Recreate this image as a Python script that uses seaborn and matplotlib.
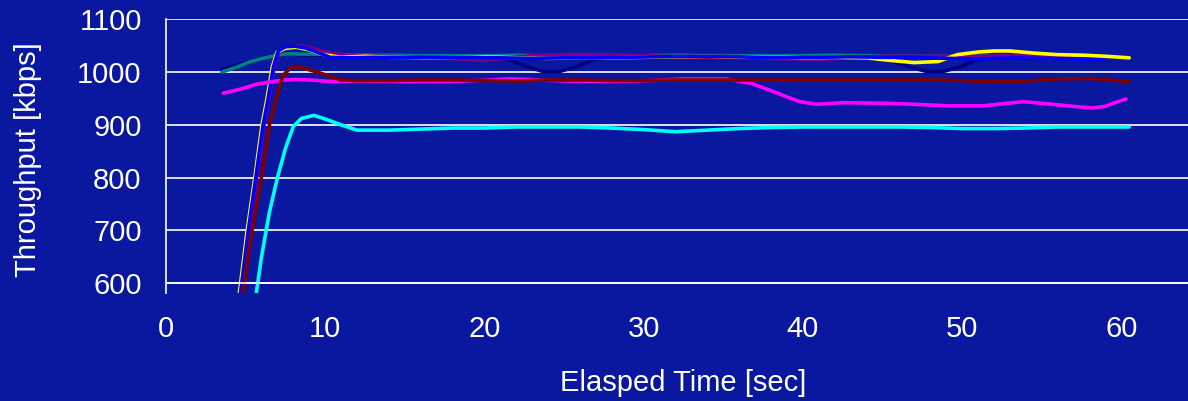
import pandas as pd
import matplotlib
matplotlib.use('Agg')
import matplotlib.pyplot as plt
import seaborn as sns

sns.set_theme(style='white')
plt.rcParams['font.family'] = ['Liberation Sans', 'DejaVu Sans']

bg = '#0A18A0'

# series: time [sec] and throughput [kbps]
navy_t = [3.5, 4.5, 5.3, 6.2, 7.0, 7.7, 8.5, 10, 12, 14, 16, 18, 20, 21.6, 22.7, 23.7, 24.7, 25.8, 26.8, 28,
          30, 32, 34, 36, 38, 40, 42, 44, 45.7, 46.8, 47.8, 48.8, 49.9, 50.9, 52, 54, 56, 58]
navy_v = [1005, 1013, 1021, 1028, 1032, 1034, 1033, 1032, 1031, 1031, 1030, 1030, 1030, 1023, 1010, 1001, 1001,
          1010, 1023, 1029, 1030, 1030, 1030, 1030, 1030, 1030, 1030, 1029, 1020, 1009, 1001, 1001, 1010, 1023,
          1029, 1030, 1030, 1029]

teal_t = [3.5, 4.5, 5.3, 6.2, 7.0, 7.7, 8.5, 9.5, 10.5, 12, 14, 16, 18, 20, 22, 24, 26, 28, 30, 32, 34, 36,
          38, 40, 42, 44, 46, 48, 50, 52, 54, 56, 58.4]
teal_v = [1000, 1010, 1020, 1027, 1032, 1035, 1034, 1034, 1033, 1032, 1032, 1031, 1031, 1031, 1032, 1030, 1030,
          1031, 1031, 1032, 1031, 1031, 1031, 1031, 1032, 1031, 1030, 1030, 1030, 1030, 1031, 1030, 1028]

purple_t = [4.6, 5.2, 5.7, 6.15, 6.45, 6.8, 7.1, 7.6, 8.4, 9.2, 10.3, 11.5, 13, 15, 17, 19, 20, 21, 23, 25,
            27, 29, 31, 33, 35, 37, 39, 41, 43, 45, 47, 49, 51, 53, 55, 57, 58.5]
purple_v = [550, 700, 800, 900, 947, 1010, 1038, 1047, 1050, 1045, 1036, 1031, 1030, 1029, 1027, 1024, 1023,
            1025, 1031, 1033, 1033, 1032, 1030, 1028, 1028, 1027, 1025, 1024, 1027, 1030, 1030, 1030, 1030,
            1031, 1031, 1030, 1029]

yellow_t = [4.48, 5.1, 5.58, 6.03, 6.33, 6.68, 6.98, 7.5, 8.2, 9.0, 9.9, 11, 12.5, 14, 16, 18, 20, 22, 24, 26,
            28, 30, 32, 34, 36, 38, 40, 42, 44, 45.5, 47, 48.5, 49.7, 51, 52, 53, 54.5, 56, 57.6, 59, 60.5]
yellow_v = [550, 700, 800, 900, 947, 1010, 1038, 1045, 1047, 1042, 1033, 1028, 1030, 1028, 1027, 1028, 1029,
            1027, 1026, 1027, 1027, 1028, 1029, 1030, 1029, 1028, 1027, 1028, 1027, 1022, 1018, 1020, 1033,
            1038, 1040, 1040, 1036, 1033, 1032, 1030, 1027]

blue_t = [4.55, 5.17, 5.65, 6.1, 6.4, 6.75, 7.05, 7.5, 8.1, 8.7, 9.3, 10.3, 11.5, 13, 15, 17, 19, 21, 23, 25,
          27, 29, 31, 33, 35, 37, 39, 41, 43, 45, 47, 49, 51, 53, 55, 57, 58.8]
blue_v = [550, 700, 802, 900, 947, 1010, 1040, 1048, 1049, 1046, 1040, 1028, 1027, 1028, 1027, 1028, 1028,
          1027, 1026, 1027, 1027, 1028, 1029, 1030, 1030, 1028, 1027, 1028, 1029, 1028, 1028, 1026, 1025,
          1027, 1026, 1025, 1023]

magenta_t = [3.6, 4.6, 5.7, 6.5, 7.4, 8.2, 9.05, 10.5, 12, 14.7, 17.8, 19.5, 21.6, 23.5, 25.2, 28.3, 30.5,
             32.5, 35.2, 36.7, 37.9, 39.0, 39.8, 40.85, 42.5, 45, 47, 49.2, 51.3, 53.85, 55.5, 57, 58.2, 59.0,
             59.5, 60.3]
magenta_v = [960, 967, 977, 981, 985, 986, 985, 982, 983, 982, 982, 984, 987, 985, 983, 982, 984, 987, 987,
             979, 966, 953, 944, 939, 942, 941, 939, 936, 936, 944, 939.5, 935, 932, 935, 941, 949]

darkred_t = [4.7, 5.4, 6.0, 6.5, 6.9, 7.35, 7.8, 8.3, 8.8, 9.5, 10.2, 11.0, 12, 14, 16, 18, 20, 22, 24, 26,
             28, 30, 32, 34, 36, 38, 40, 42, 44, 46, 48, 50, 52, 54, 56, 58, 60.5]
darkred_v = [555, 700, 801, 900, 947, 994, 1007, 1011, 1006, 1000, 993, 985, 984, 984, 985, 985, 984, 983,
             985, 985, 984, 984, 985, 985, 985, 985, 985, 985, 985, 985, 985, 984, 982, 983, 987, 988, 982]

cyan_t = [5.5, 6.0, 6.5, 7.0, 7.5, 8.0, 8.5, 9.3, 10.1, 11.0, 12.0, 14, 16, 18, 20, 22, 24, 26, 28, 30, 32,
          34, 36, 38, 40, 42, 44, 46, 48, 50, 52, 54, 56, 58, 60.5]
cyan_v = [545, 650, 735, 800, 855, 897, 912, 918, 910, 900, 890, 890, 892, 894, 894, 896, 896, 896, 894, 891,
          887, 890, 893, 895, 896, 896, 896, 896, 895, 893, 893, 894, 896, 896, 896]

series = {
    'navy': (navy_t, navy_v, '#000080'),
    'teal': (teal_t, teal_v, '#008080'),
    'purple': (purple_t, purple_v, '#800080'),
    'yellow': (yellow_t, yellow_v, '#FFFF00'),
    'blue': (blue_t, blue_v, '#0000FF'),
    'magenta': (magenta_t, magenta_v, '#FF00FF'),
    'darkred': (darkred_t, darkred_v, '#800000'),
    'cyan': (cyan_t, cyan_v, '#00FFFF'),
}

rows = []
for name, (ts, vs, _) in series.items():
    for t, v in zip(ts, vs):
        rows.append({'series': name, 't': t, 'v': v})
df = pd.DataFrame(rows)
palette = {name: c for name, (_, _, c) in series.items()}

fig = plt.figure(figsize=(11.88, 4.01), dpi=100, facecolor=bg)
ax = fig.add_axes([166 / 1188, 1 - 292.7 / 401, 1 - 166 / 1188, (292.7 - 19.3) / 401])
ax.set_facecolor(bg)

sns.lineplot(data=df, x='t', y='v', hue='series', hue_order=list(series.keys()), palette=palette,
             sort=False, estimator=None, legend=False, linewidth=2.6, ax=ax)

ax.set_xlim(0, (1188 - 166) / 15.92)
ax.set_ylim(582, 1100)
ax.set_xticks([0, 10, 20, 30, 40, 50, 60])
ax.set_yticks([600, 700, 800, 900, 1000, 1100])
ax.grid(axis='y', color='white', linewidth=1.2)
ax.grid(axis='x', visible=False)
ax.set_axisbelow(True)

for s in ['top', 'right']:
    ax.spines[s].set_visible(False)
ax.spines['left'].set_color('white')
ax.spines['left'].set_linewidth(1.2)
ax.spines['bottom'].set_position(('data', 600))
ax.spines['bottom'].set_color('white')
ax.spines['bottom'].set_linewidth(1.2)

ax.tick_params(axis='y', direction='out', length=6.5, width=1, color='white', labelcolor='white',
               labelsize=21, pad=11)
ax.tick_params(axis='x', direction='inout', length=14, width=1, color='white', labelcolor='white',
               labelsize=21, pad=16)

ax.set_xlabel('Elasped Time [sec]', color='white', fontsize=21)
ax.set_ylabel('Throughput [kbps]', color='white', fontsize=21)
ax.xaxis.set_label_coords((683 - 166) / 1022, (292.7 - 383) / 273.4)
ax.xaxis.label.set_va('center')
ax.yaxis.set_label_coords((28 - 166) / 1022, (292.7 - 160) / 273.4)
ax.yaxis.label.set_va('center')

plt.savefig('out.png', dpi=100, facecolor=bg)
